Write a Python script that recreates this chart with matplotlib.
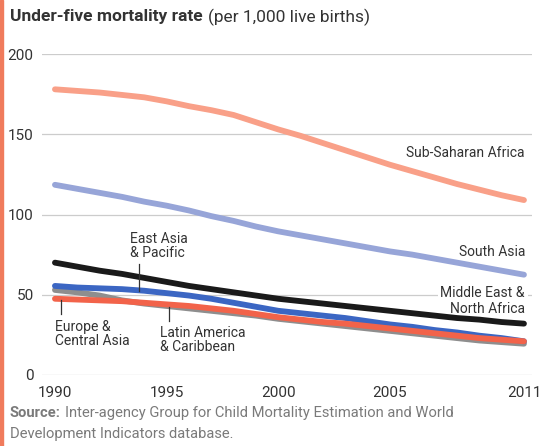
import matplotlib
matplotlib.use("Agg")
import matplotlib.pyplot as plt

years = list(range(1990, 2012))

sub_saharan = [178, 177, 176, 174.5, 173, 170.5, 167.5, 165, 162, 157.5, 153,
               149, 144.5, 140, 135.5, 131, 127, 123, 119, 115.5, 112, 109]
south_asia = [118.5, 116, 113.5, 111, 108, 105.5, 102.5, 99, 96, 92.5, 89.5,
              87, 84.5, 82, 79.5, 77, 75, 72.5, 70, 67.5, 65, 62.5]
mena = [70, 67.5, 65, 63, 60.5, 58, 55.5, 53.5, 51.5, 49.5, 47.5,
        46, 44.5, 43, 41.5, 40, 38.5, 37, 35.5, 34.5, 33, 32]
east_asia = [55.5, 54.5, 54, 53.5, 52.5, 51, 49.5, 47.5, 45, 42.5, 40,
             38.5, 37, 35.5, 33.5, 31.5, 30, 28, 26.5, 24.5, 23, 21]
latin_america = [53, 51.5, 49.5, 46.5, 44.5, 43, 41.5, 40, 38.5, 37, 35,
                 33.5, 32, 30.5, 29, 27.5, 26, 24.5, 23, 21.5, 20.5, 19.5]
europe_ca = [47.5, 47, 46.5, 46, 45, 44, 43, 41.5, 40, 38, 36,
             34.5, 33, 32, 30.5, 29, 27.5, 26, 24.5, 23, 22, 21]

y_ticks = [0, 50, 100, 150, 200]
x_ticks = [1990, 1995, 2000, 2005, 2011]

plt.rcParams['font.family'] = ['Roboto', 'DejaVu Sans']

W, H = 540, 446
fig = plt.figure(figsize=(W / 100, H / 100), dpi=100)
ax = fig.add_axes([42 / W, (H - 375) / H, (532 - 42) / W, (375 - 54) / H])
ax.set_xlim(1989.42, 2011.36)
ax.set_ylim(0, 200)
for s in ax.spines.values():
    s.set_visible(False)
ax.set_yticks(y_ticks)
ax.set_xticks(x_ticks)
ax.set_yticklabels([str(v) for v in y_ticks])
ax.set_xticklabels([str(v) for v in x_ticks])
ax.tick_params(axis='both', length=0, labelsize=11, colors='#333333')
ax.tick_params(axis='y', pad=6)
ax.tick_params(axis='x', pad=8)
ax.grid(axis='y', color='#cccccc', linewidth=0.9)
ax.set_axisbelow(True)

series = [
    (sub_saharan, '#F9A088'),
    (south_asia, '#97A5D8'),
    (latin_america, '#8E8E8E'),
    (east_asia, '#3B66C3'),
    (mena, '#1A1A1A'),
    (europe_ca, '#F2634A'),
]
for vals, c in series:
    ax.plot(years, vals, color=c, lw=4.2, solid_capstyle='round', clip_on=False, zorder=3)

lab = dict(fontsize=10, color='#333333')
def px(xp, yp):
    return ax.transData.inverted().transform(fig.transFigure.transform((xp / W, 1 - yp / H)))

def put(xp, yp, s, ha, bg=False):
    x, y = px(xp, yp)
    kw = {}
    if bg:
        kw['bbox'] = dict(facecolor='white', edgecolor='none', pad=2)
    ax.text(x, y, s, ha=ha, va='center', linespacing=1.05, zorder=5, **lab, **kw)

put(525, 153, 'Sub-Saharan Africa', 'right')
put(525, 252, 'South Asia', 'right')
put(525, 293, 'Middle East &', 'right', bg=True)
put(525, 309, 'North Africa', 'right')
put(130, 246, 'East Asia\n& Pacific', 'left')
put(55, 334, 'Europe &\nCentral Asia', 'left')
put(160, 340, 'Latin America\n& Caribbean', 'left')

def pointer(xp, y0, y1):
    a = px(xp, y0); b = px(xp, y1)
    ax.plot([a[0], b[0]], [a[1], b[1]], color='#333333', lw=0.9, zorder=4, clip_on=False)

pointer(139, 264, 291)
pointer(61, 300, 314)
pointer(169, 307, 321)

# left accent bar
fig.patches.append(plt.Rectangle((0, 0), 3 / W, 1, transform=fig.transFigure,
                                 color='#F07B5C', zorder=0))

# title
t1 = fig.text(10 / W, 1 - 17 / H, 'Under-five mortality rate', fontsize=12.5,
              fontweight='bold', color='#333333', va='center', ha='left')
fig.canvas.draw()
bb = t1.get_window_extent()
fig.text((bb.x1 + 5) / W, 1 - 17 / H, '(per 1,000 live births)', fontsize=12.5,
         color='#333333', va='center', ha='left')

# source
s1 = fig.text(10 / W, 1 - 413 / H, 'Source:', fontsize=10.6, fontweight='bold',
              color='#7a7a7a', va='center', ha='left')
fig.canvas.draw()
bb = s1.get_window_extent()
fig.text((bb.x1 + 4) / W, 1 - 413 / H,
         'Inter-agency Group for Child Mortality Estimation and World',
         fontsize=10.6, color='#7a7a7a', va='center', ha='left')
fig.text(10 / W, 1 - 434 / H, 'Development Indicators database.', fontsize=10.6,
         color='#7a7a7a', va='center', ha='left')

fig.savefig('out.png', dpi=100)
